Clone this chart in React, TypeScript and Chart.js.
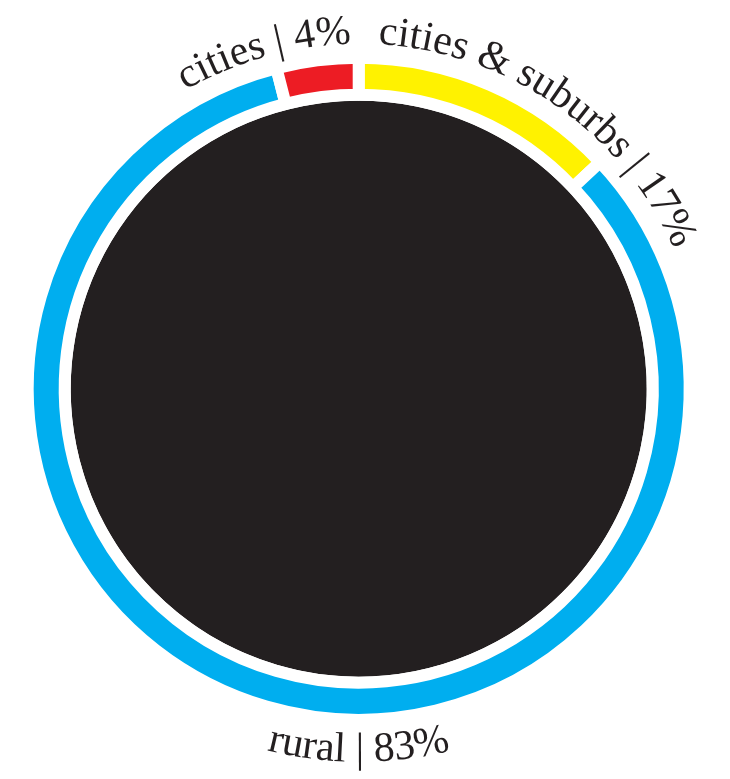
import React, { useEffect, useRef } from 'react';
import { Chart, registerables } from 'chart.js';

Chart.register(...registerables);

// ---- data ----
const categories = ['cities & suburbs', 'rural', 'cities'];
const values = [13, 83, 4];
const shareLabels = ['17%', '83%', '4%'];
const colors = ['#FFF200', '#00AEEF', '#ED1C24'];
const labelPlacement = ['start', 'bottom', 'end'];

// ---- layout / style ----
const W = 730;
const H = 779;
const CX = 358.7;
const CY = 388.7;
const OUTER = 331;
const INNER = 294;
const GAP = 12;
const DISC_COLOR = '#231F20';
const TEXT_COLOR = '#231F20';
const FONT = '42px "Liberation Serif", "Times New Roman", serif';

const ringLabels = {
  id: 'ringLabels',
  beforeDatasetsDraw(chart: any) {
    const meta = chart.getDatasetMeta(0);
    const arc = meta.data[0];
    if (!arc) return;
    const { x, y, innerRadius } = arc.getProps(['x', 'y', 'innerRadius'], true);
    const ctx = chart.ctx;
    ctx.save();
    ctx.fillStyle = DISC_COLOR;
    ctx.beginPath();
    ctx.arc(x, y, innerRadius - GAP / 2, 0, Math.PI * 2);
    ctx.fill();
    ctx.restore();
  },
  afterDatasetsDraw(chart: any) {
    const meta = chart.getDatasetMeta(0);
    const ctx = chart.ctx;
    ctx.save();
    ctx.font = FONT;
    ctx.fillStyle = TEXT_COLOR;
    ctx.textAlign = 'center';
    ctx.textBaseline = 'alphabetic';
    meta.data.forEach((arc: any, i: number) => {
      const { x, y, startAngle, endAngle, outerRadius } = arc.getProps(
        ['x', 'y', 'startAngle', 'endAngle', 'outerRadius'],
        true
      );
      const text = categories[i] + ' | ' + shareLabels[i];
      const chars = Array.from(text);
      const widths = chars.map((c) => ctx.measureText(c).width);
      const total = widths.reduce((a, b) => a + b, 0);
      const mode = labelPlacement[i];
      if (mode === 'bottom') {
        const R = outerRadius - GAP / 2 + 48;
        const span = total / R;
        let acc = 0;
        chars.forEach((c, k) => {
          const a = Math.PI / 2 + span / 2 - (acc + widths[k] / 2) / R;
          acc += widths[k];
          ctx.save();
          ctx.translate(x + R * Math.cos(a), y + R * Math.sin(a));
          ctx.rotate(a - Math.PI / 2);
          ctx.fillText(c, 0, 0);
          ctx.restore();
        });
      } else {
        const R = outerRadius - GAP / 2 + 20;
        const span = total / R;
        const a0 =
          mode === 'end'
            ? endAngle - (1.2 * Math.PI) / 180 - span
            : startAngle + (3.2 * Math.PI) / 180;
        let acc = 0;
        chars.forEach((c, k) => {
          const a = a0 + (acc + widths[k] / 2) / R;
          acc += widths[k];
          ctx.save();
          ctx.translate(x + R * Math.cos(a), y + R * Math.sin(a));
          ctx.rotate(a + Math.PI / 2);
          ctx.fillText(c, 0, 0);
          ctx.restore();
        });
      }
    });
    ctx.restore();
  },
};

export default function App() {
  const ref = useRef<HTMLCanvasElement | null>(null);
  useEffect(() => {
    if (!ref.current) return;
    const chart = new Chart(ref.current, {
      type: 'doughnut',
      data: {
        labels: categories,
        datasets: [
          {
            data: values,
            backgroundColor: colors,
            borderColor: '#ffffff',
            borderWidth: GAP,
          },
        ],
      },
      options: {
        animation: false,
        responsive: false,
        maintainAspectRatio: false,
        events: [],
        rotation: 0,
        radius: OUTER,
        cutout: ((INNER / OUTER) * 100).toFixed(3) + '%',
        layout: {
          padding: { left: 0, top: 0, right: W - 2 * CX, bottom: H - 2 * CY },
        },
        plugins: {
          legend: { display: false },
          tooltip: { enabled: false },
        },
      } as any,
      plugins: [ringLabels],
    });
    return () => chart.destroy();
  }, []);
  return (
    <div style={{ position: 'absolute', left: 0, top: 0, width: W, height: H, background: '#fff' }}>
      <canvas ref={ref} width={W} height={H} style={{ display: 'block' }} />
    </div>
  );
}
